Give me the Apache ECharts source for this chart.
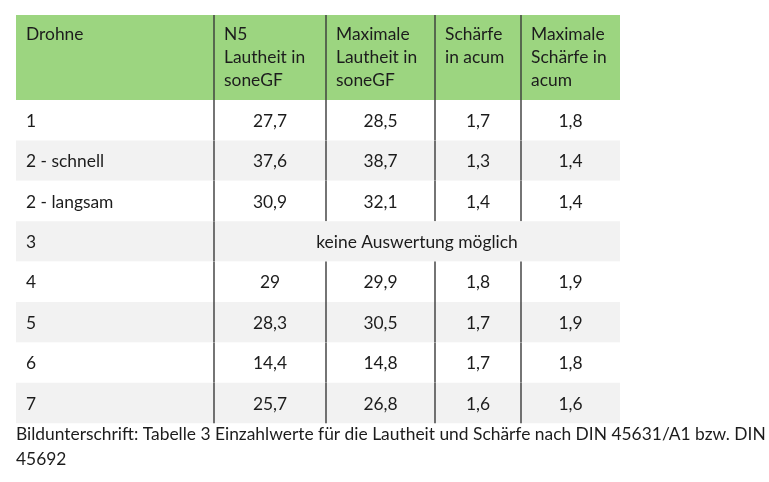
<!DOCTYPE html>
<html>
<head>
<meta charset="utf-8">
<script src="https://cdn.jsdelivr.net/npm/echarts@6/dist/echarts.min.js"></script>
<style>
  html, body { margin: 0; padding: 0; background: #fff; }
  #main { width: 769px; height: 482px; }
</style>
</head>
<body>
<div id="main"></div>
<script>
// Tabellendaten
var headers = ["Drohne", "N5\nLautheit in\nsoneGF", "Maximale\nLautheit in\nsoneGF", "Schärfe\nin acum", "Maximale\nSchärfe in\nacum"];
var drohnen = ["1", "2 - schnell", "2 - langsam", "3", "4", "5", "6", "7"];
var n5Lautheit = [27.7, 37.6, 30.9, null, 29, 28.3, 14.4, 25.7];
var maxLautheit = [28.5, 38.7, 32.1, null, 29.9, 30.5, 14.8, 26.8];
var schaerfe = [1.7, 1.3, 1.4, null, 1.8, 1.7, 1.7, 1.6];
var maxSchaerfe = [1.8, 1.4, 1.4, null, 1.9, 1.9, 1.8, 1.6];
var keineAuswertung = "keine Auswertung möglich";
var caption = "Bildunterschrift: Tabelle 3 Einzahlwerte für die Lautheit und Schärfe nach DIN 45631/A1 bzw. DIN\n45692";

// Layout (Achseneinheiten = px)
var colEdges = [0, 198, 310, 419, 505, 604];
var headerH = 85;
var rowH = 40.4;
var rowEdges = [0, headerH];
for (var r = 0; r < drohnen.length; r++) {
  rowEdges.push(headerH + (r + 1) * rowH);
}
var FONT = "Lato";
var FS = 17.4;
var TXT = "#1c1c1c";

function fmt(v) {
  return String(v).replace(".", ",");
}

// Zellen aus den Arrays aufbauen
var cells = [];
for (var c = 0; c < headers.length; c++) {
  cells.push({ col: c, span: 1, row: 0, text: headers[c], header: true });
}
var valueCols = [n5Lautheit, maxLautheit, schaerfe, maxSchaerfe];
for (var i = 0; i < drohnen.length; i++) {
  cells.push({ col: 0, span: 1, row: i + 1, text: drohnen[i] });
  if (n5Lautheit[i] === null) {
    cells.push({ col: 1, span: 4, row: i + 1, text: keineAuswertung, center: true });
  } else {
    for (var k = 0; k < valueCols.length; k++) {
      cells.push({ col: k + 1, span: 1, row: i + 1, text: fmt(valueCols[k][i]), center: true });
    }
  }
}

function renderCell(params, api) {
  var cell = cells[params.dataIndex];
  var p0 = api.coord([colEdges[cell.col], rowEdges[cell.row]]);
  var p1 = api.coord([colEdges[cell.col + cell.span], rowEdges[cell.row + 1]]);
  var fill;
  if (cell.header) fill = "#9cd580";
  else fill = cell.row % 2 === 0 ? "#f2f2f2" : "#ffffff";
  var children = [
    {
      type: "rect",
      shape: { x: p0[0], y: p0[1], width: p1[0] - p0[0], height: p1[1] - p0[1] },
      style: { fill: fill }
    }
  ];
  if (cell.header) {
    children.push({
      type: "text",
      style: {
        x: p0[0] + 10, y: p0[1] + 8, text: cell.text,
        fill: TXT, font: FS + "px " + FONT, lineHeight: 23,
        align: "left", verticalAlign: "top"
      }
    });
  } else {
    children.push({
      type: "text",
      style: {
        x: cell.center ? (p0[0] + p1[0]) / 2 : p0[0] + 10,
        y: (p0[1] + p1[1]) / 2 + 1,
        text: cell.text, fill: TXT, font: FS + "px " + FONT,
        align: cell.center ? "center" : "left", verticalAlign: "middle"
      }
    });
  }
  if (cell.col > 0) {
    children.push({
      type: "line",
      shape: { x1: p0[0], y1: p0[1], x2: p0[0], y2: p1[1] },
      style: { stroke: "#3a3a3a", lineWidth: 1.4 }
    });
  }
  return { type: "group", children: children };
}

var chart = echarts.init(document.getElementById("main"));
chart.setOption({
  animation: false,
  title: {
    text: caption,
    left: 16,
    top: 422,
    padding: 0,
    textStyle: { fontFamily: FONT, fontSize: FS, fontWeight: "normal", color: TXT, lineHeight: 25 }
  },
  grid: { left: 16, top: 15, width: 604, height: 408 },
  xAxis: { type: "value", min: 0, max: 604, show: false },
  yAxis: { type: "value", min: 0, max: 408, inverse: true, show: false },
  series: [
    {
      type: "custom",
      clip: false,
      renderItem: renderCell,
      data: cells.map(function (cell) {
        return [colEdges[cell.col], rowEdges[cell.row]];
      })
    }
  ]
});
</script>
</body>
</html>
